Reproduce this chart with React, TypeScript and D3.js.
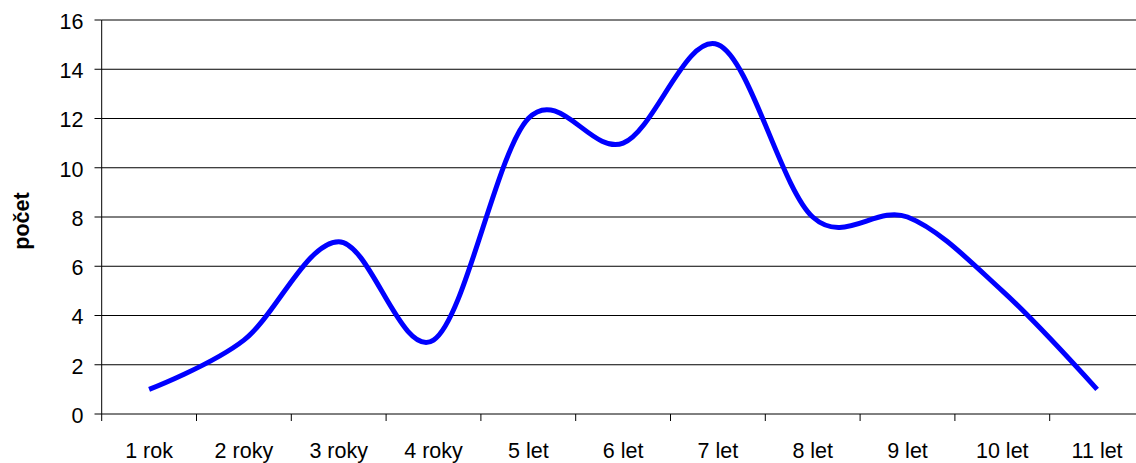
import React from "react";
import * as d3 from "d3";

const categories = ["1 rok", "2 roky", "3 roky", "4 roky", "5 let", "6 let", "7 let", "8 let", "9 let", "10 let", "11 let"];
const counts = [1, 3, 7, 3, 12, 11, 15, 8, 8, 5, 1];
const yTicks = [0, 2, 4, 6, 8, 10, 12, 14, 16];
const yTitle = "počet";

const W = 1136;
const H = 463;
const FONT = "'Liberation Sans', Arial, sans-serif";

export default function App() {
  const x = d3.scaleBand<string>().domain(categories).range([101.7, 101.7 + 11 * 94.8]).padding(0);
  const y = d3.scaleLinear().domain([0, 16]).range([414, 20]);
  const cx = (c: string) => (x(c) as number) + x.bandwidth() / 2;

  const line = d3
    .line<number>()
    .x((_, i) => cx(categories[i]))
    .y((d) => y(d))
    .curve(d3.curveCardinal.tension(0));

  const tickXs = categories.map((c) => x(c) as number).concat([(x(categories[categories.length - 1]) as number) + x.bandwidth()]);

  return (
    <svg width={W} height={H} style={{ position: "absolute", left: 0, top: 0, background: "#fff" }} fontFamily={FONT}>
      {yTicks.map((t) => (
        <g key={t}>
          {t > 0 && <line x1={101.7} x2={W} y1={y(t)} y2={y(t)} stroke="#000" strokeWidth={1} />}
          <line x1={94.5} x2={101.7} y1={y(t)} y2={y(t)} stroke="#000" strokeWidth={1} />
          <text x={83.5} y={y(t) + 8.8} textAnchor="end" fontSize={21.5} fill="#000">
            {t}
          </text>
        </g>
      ))}
      <line x1={101.7} x2={101.7} y1={y(16)} y2={y(0)} stroke="#000" strokeWidth={1} />
      <line x1={101.7} x2={W} y1={y(0)} y2={y(0)} stroke="#000" strokeWidth={1} />
      {tickXs.map((tx, i) => (
        <line key={i} x1={tx} x2={tx} y1={y(0)} y2={y(0) + 7} stroke="#000" strokeWidth={1} />
      ))}
      {categories.map((c) => (
        <text key={c} x={cx(c)} y={457.5} textAnchor="middle" fontSize={21.5} fill="#000">
          {c}
        </text>
      ))}
      <text
        transform={`translate(29, 221) rotate(-90)`}
        textAnchor="middle"
        fontSize={21.5}
        fontWeight="bold"
        fill="#000"
      >
        {yTitle}
      </text>
      <path d={line(counts) || ""} fill="none" stroke="#0000FF" strokeWidth={5} strokeLinejoin="round" />
    </svg>
  );
}
